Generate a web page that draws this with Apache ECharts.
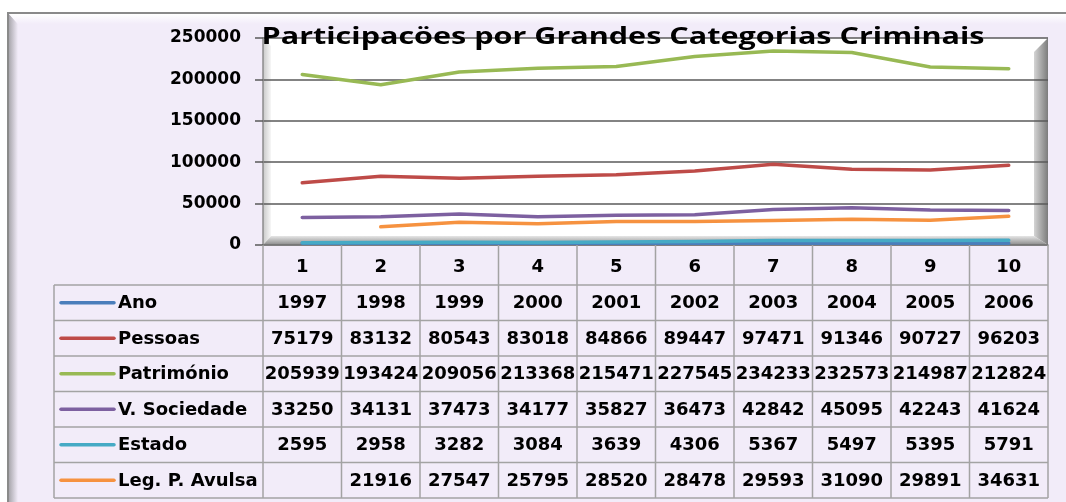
<!DOCTYPE html>
<html>
<head>
<meta charset="utf-8">
<script src="https://cdn.jsdelivr.net/npm/echarts@6/dist/echarts.min.js"></script>
<style>
  html, body { margin: 0; padding: 0; background: #fff; }
  #chart { width: 1066px; height: 502px; }
</style>
</head>
<body>
<div id="chart"></div>
<script>
// dados
const categories = ['1', '2', '3', '4', '5', '6', '7', '8', '9', '10'];
const ano        = [1997, 1998, 1999, 2000, 2001, 2002, 2003, 2004, 2005, 2006];
const pessoas    = [75179, 83132, 80543, 83018, 84866, 89447, 97471, 91346, 90727, 96203];
const patrimonio = [205939, 193424, 209056, 213368, 215471, 227545, 234233, 232573, 214987, 212824];
const vSociedade = [33250, 34131, 37473, 34177, 35827, 36473, 42842, 45095, 42243, 41624];
const estado     = [2595, 2958, 3282, 3084, 3639, 4306, 5367, 5497, 5395, 5791];
const legAvulsa  = [null, 21916, 27547, 25795, 28520, 28478, 29593, 31090, 29891, 34631];

const seriesNames = ['Ano', 'Pessoas', 'Património', 'V. Sociedade', 'Estado', 'Leg. P. Avulsa'];
const seriesData  = [ano, pessoas, patrimonio, vSociedade, estado, legAvulsa];
const yMin = 0, yMax = 250000, yStep = 50000;
const titleText = 'Participacöes por Grandes Categorias Criminais';

// estilo
const colors = ['#4a7ebb', '#be4b48', '#98b954', '#7d60a0', '#46aac5', '#f69240'];
const FONT = '"DejaVu Sans", Verdana, sans-serif';
const BG = '#f2ecf9';
const plot = { left: 263, top: 38, right: 1048, bottom: 245 };
const table = { left: 54, headBottom: 285, rowH: 35.5, line: '#a3a3a3' };

const chart = echarts.init(document.getElementById('chart'));

chart.setOption({
  backgroundColor: '#fff',
  animation: false,
  grid: {
    left: plot.left,
    top: plot.top,
    width: plot.right - plot.left,
    height: plot.bottom - plot.top
  },
  xAxis: {
    type: 'category',
    data: categories,
    boundaryGap: true,
    axisLine: { lineStyle: { color: '#7f7f7f', width: 1.5 } },
    axisTick: { show: false },
    axisLabel: { color: '#000', fontFamily: FONT, fontWeight: 'bold', fontSize: 18, margin: 13 }
  },
  yAxis: {
    type: 'value',
    min: yMin,
    max: yMax,
    interval: yStep,
    axisLine: { show: true, lineStyle: { color: '#8c8c8c', width: 1.5 } },
    axisTick: { show: true, length: 8, lineStyle: { color: '#595959', width: 1.5 } },
    axisLabel: { color: '#000', fontFamily: FONT, fontWeight: 'bold', fontSize: 17, margin: 22,
      formatter: v => String(v) },
    splitLine: { show: true, lineStyle: { color: '#5a5a5a', width: 1.5 } }
  },
  series: seriesNames.map((name, i) => ({
    name,
    type: 'line',
    data: seriesData[i],
    symbol: 'none',
    connectNulls: false,
    lineStyle: { color: colors[i], width: 3.5, cap: 'round', join: 'round' },
    z: 3
  }))
});

// posicoes das colunas a partir do eixo
const centers = categories.map((c, i) => chart.convertToPixel({ xAxisIndex: 0 }, i));
const colW = centers[1] - centers[0];
const bounds = [centers[0] - colW / 2].concat(centers.map(c => c + colW / 2));
const tableBottom = table.headBottom + table.rowH * seriesNames.length;

const g = [];

// moldura exterior
g.push({ type: 'rect', z: -10, shape: { x: 8, y: 13, width: 1070, height: 500 },
  style: { fill: BG, stroke: '#8a8a8a', lineWidth: 2 } });
g.push({ type: 'polygon', z: -9, shape: { points: [[9, 14], [18, 24], [18, 502], [9, 502]] },
  style: { fill: new echarts.graphic.LinearGradient(0, 0, 1, 0, [
    { offset: 0, color: '#a9a7ad' }, { offset: 1, color: BG }]) } });
g.push({ type: 'polygon', z: -9, shape: { points: [[9, 14], [1066, 14], [1066, 24], [18, 24]] },
  style: { fill: new echarts.graphic.LinearGradient(0, 0, 0, 1, [
    { offset: 0, color: '#ffffff' }, { offset: 1, color: BG }]) } });

// area do grafico com relevo
g.push({ type: 'rect', z: -8, shape: { x: plot.left, y: plot.top, width: plot.right - plot.left, height: plot.bottom - plot.top },
  style: { fill: '#ffffff' } });
g.push({ type: 'polygon', z: -7, shape: { points: [[plot.left, plot.top], [plot.left + 8, plot.top + 8], [plot.left + 8, plot.bottom - 9], [plot.left, plot.bottom]] },
  style: { fill: new echarts.graphic.LinearGradient(0, 0, 1, 0, [
    { offset: 0, color: '#c9c9c9' }, { offset: 1, color: '#f7f7f7' }]) } });
g.push({ type: 'polygon', z: -7, shape: { points: [[plot.left, plot.bottom], [plot.left + 8, plot.bottom - 9], [plot.right - 14, plot.bottom - 9], [plot.right, plot.bottom]] },
  style: { fill: new echarts.graphic.LinearGradient(0, 0, 0, 1, [
    { offset: 0, color: '#e6e6e6' }, { offset: 1, color: '#8a8a8a' }]) } });
g.push({ type: 'polygon', z: -7, shape: { points: [[plot.right - 14, plot.top + 14], [plot.right, plot.top], [plot.right, plot.bottom], [plot.right - 14, plot.bottom - 9]] },
  style: { fill: new echarts.graphic.LinearGradient(0, 0, 1, 0, [
    { offset: 0, color: '#d4d4d4' }, { offset: 1, color: '#7c7c7c' }]) } });

// titulo
const mctx = document.createElement('canvas').getContext('2d');
const titleFont = 'bold 24px "Open Sans"';
mctx.font = titleFont;
const titleScale = 723 / mctx.measureText(titleText).width;
g.push({ type: 'text', z: 20, x: 623, y: 37, scaleX: titleScale,
  style: { text: titleText, x: 0, y: 0, align: 'center', verticalAlign: 'middle',
    font: titleFont, fill: '#000' } });

// tabela de dados
const L = (x1, y1, x2, y2) => g.push({ type: 'line', z: 5, shape: { x1, y1, x2, y2 },
  style: { stroke: table.line, lineWidth: 1.5 } });
bounds.forEach(x => L(x, plot.bottom, x, tableBottom));
L(table.left, table.headBottom, table.left, tableBottom);
for (let r = 0; r <= seriesNames.length; r++) {
  const y = table.headBottom + r * table.rowH;
  L(table.left, y, bounds[bounds.length - 1], y);
}

const textStyle = (text, x, y, align) => ({
  type: 'text', z: 6,
  style: { text, x, y, align, verticalAlign: 'middle', fontFamily: FONT, fontWeight: 'bold', fontSize: 18, fill: '#000' }
});

seriesNames.forEach((name, r) => {
  const cy = table.headBottom + (r + 0.5) * table.rowH;
  g.push({ type: 'line', z: 6, shape: { x1: 61, y1: cy, x2: 114, y2: cy },
    style: { stroke: colors[r], lineWidth: 3.5, lineCap: 'round' } });
  g.push(textStyle(name, 118, cy + 1, 'left'));
  seriesData[r].forEach((v, c) => {
    if (v !== null) g.push(textStyle(String(v), centers[c], cy + 1, 'center'));
  });
});

chart.setOption({ graphic: g });
</script>
</body>
</html>
